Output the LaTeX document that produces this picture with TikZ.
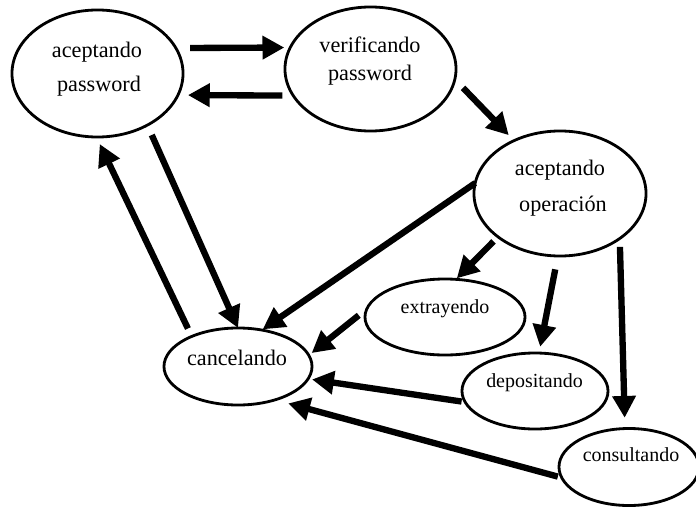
\documentclass[tikz,border=0pt]{standalone}
\usepackage{fontspec}
\setmainfont{Liberation Serif}
\usetikzlibrary{shapes.geometric,arrows.meta}
\tikzset{
  estado/.style={draw,ellipse,line width=2pt,inner sep=0pt,outer sep=0pt},
  grande/.style={anchor=base,inner sep=0pt,font=\fontsize{15.8}{19}\selectfont},
  chico/.style={anchor=base,inner sep=0pt,font=\fontsize{14.2}{17}\selectfont},
  flecha/.style={line width=4.5pt,-{Triangle[length=15.5pt,width=16pt]}}
}
\begin{document}
\begin{tikzpicture}[x=0.025cm,y=-0.025cm]
				\useasboundingbox (0,0) rectangle (696,506);

				\path (97.5,73.5) node[estado,minimum width=4.275cm,minimum height=3.175cm] (apw) {};
				\path (370.5,69) node[estado,minimum width=4.275cm,minimum height=3.1cm] (vpw) {};
				\path (560,193.5) node[estado,minimum width=4.3cm,minimum height=3.125cm] (aop) {};
				\path (445,317) node[estado,minimum width=4cm,minimum height=1.9cm] (ext) {};
				\path (238,366.5) node[estado,minimum width=3.7cm,minimum height=1.925cm] (can) {};
				\path (535,391) node[estado,minimum width=3.65cm,minimum height=1.9cm] (dep) {};
				\path (629,467) node[estado,minimum width=3.5cm,minimum height=1.925cm] (con) {};

				\path (97,57) node[grande] (apw1) {aceptando};
				\path (99,91) node[grande] (apw2) {password};
				\path (370,52.7) node[grande] (vpw1) {verificando};
				\path (370,80) node[grande] (vpw2) {password};
				\path (560,175.7) node[grande] (aop1) {aceptando};
				\path (563,211) node[grande] (aop2) {operación};
				\path (445,313.3) node[chico] (ext1) {extrayendo};
				\path (237,365.7) node[grande] (can1) {cancelando};
				\path (534.5,387.7) node[chico] (dep1) {depositando};
				\path (631,461) node[chico] (con1) {consultando};

				\path[flecha,draw,shorten <=0.355cm,shorten >=0.15cm] (apw.18) -- (vpw.165);
				\path[flecha,draw,shorten <=0.27cm,shorten >=0.25cm] (vpw.199) -- (apw.345);
				\path[flecha,draw,shorten <=0.295cm,shorten >=0.19cm] (vpw.353) -- (aop.131);
				\path[flecha,draw,shorten <=0.27cm] (apw.314) -- (can.90);
				\path[flecha,draw,shorten <=0.22cm,shorten >=0.195cm] (can.147) -- (apw.269);
				\path[flecha,draw,shorten >=0.03cm] (aop.173) -- (can.57);
				\path[flecha,draw,shorten <=0.16cm,shorten >=0.035cm] (aop.215) -- (ext.74);
				\path[flecha,draw,shorten <=0.34cm,shorten >=0.16cm] (aop.268) -- (dep.84);
				\path[flecha,draw,shorten <=0.21cm,shorten >=0.27cm] (aop.323) -- (con.96);
				\path[flecha,draw,shorten <=0.26cm,shorten >=0.09cm] (ext.174) -- (can.9);
				\path[flecha,draw,shorten <=0.09cm,shorten >=0.1cm] (dep.189) -- (can.350);
				\path[flecha,draw,shorten <=0.1cm,shorten >=0.34cm] (con.189) -- (can.318);
\end{tikzpicture}
\end{document}
